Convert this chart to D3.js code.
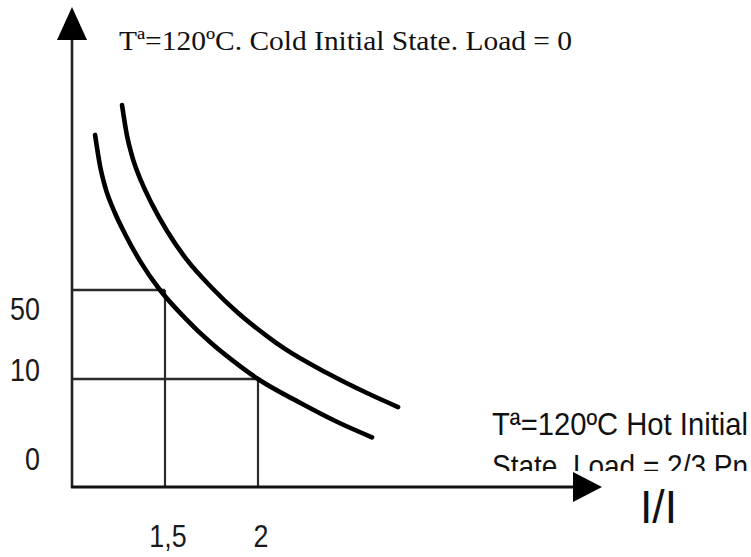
<!DOCTYPE html>
<html>
<head>
<meta charset="utf-8">
<script src="https://cdn.jsdelivr.net/npm/d3@7"></script>
<style>
    body { margin: 0; background: #fff; }
    svg { display: block; }
</style>
</head>
<body>
<svg class="chart" width="751" height="557"></svg>
<script>
/*global d3*/

// tick values on each axis
var xTicks = [1.5, 2];
var xTickLabels = ["1,5", "2"];
var yTicks = [0, 10, 50];
var yTickLabels = ["0", "10", "50"];

// the two reference lines drawn from the axes to the lower curve
var guideX = [1.5, 2];
var guideY = [50, 10];

// cold initial state, load = 0 (upper curve)
var coldX = [1.269, 1.296, 1.323, 1.376, 1.430, 1.511, 1.618, 1.753, 1.887, 2.048, 2.145, 2.371, 2.586, 2.753];
var coldY = [133.1, 119.2, 110.2, 98.1, 88.6, 76.5, 63.5, 50.9, 40.1, 29.3, 23.5, 12.7, 8.7, 7.4];

// hot initial state, load = 2/3 Pn (lower curve)
var hotX = [1.124, 1.151, 1.177, 1.231, 1.285, 1.366, 1.473, 1.608, 1.742, 1.903, 2.0, 2.226, 2.441, 2.613];
var hotY = [119.7, 105.7, 96.7, 84.6, 75.2, 63.0, 50, 37.4, 26.6, 15.8, 10, 7.8, 5.9, 4.6];

var titleTop = "T\u00aa=120\u00baC. Cold Initial State. Load = 0";
var titleBottom = ["T\u00aa=120\u00baC Hot Initial", "State. Load = 2/3 Pn"];
var xTitle = "I/I";

var svg = d3.select(".chart");

// x: I/In, origin of the sketch is 1
var x = d3.scaleLinear().domain([1, 2]).range([72, 258]);
// y: the sketch is not to scale, so piecewise through the labelled values
var y = d3.scaleLinear().domain([0, 10, 50]).range([487, 379, 290]);
// the y labels sit a little off their lines in the sketch
var yLabel = d3.scaleLinear().domain([0, 10, 50]).range([470, 381, 320]);

var axisTop = 40, axisRight = 574;

// guide lines
guideX.forEach(function (gx, i) {
    var gy = guideY[i];
    svg.append("line")
        .attr("x1", x(1)).attr("x2", x(gx))
        .attr("y1", y(gy)).attr("y2", y(gy))
        .attr("stroke", "#2b2b2b").attr("stroke-width", 2.6);
    svg.append("line")
        .attr("x1", x(gx)).attr("x2", x(gx))
        .attr("y1", y(gy)).attr("y2", y(0))
        .attr("stroke", "#2b2b2b").attr("stroke-width", 2.2);
});

// axes with arrow heads
svg.append("line")
    .attr("x1", x(1)).attr("x2", x(1))
    .attr("y1", y(0) + 1).attr("y2", axisTop)
    .attr("stroke", "#222").attr("stroke-width", 2.6);
svg.append("line")
    .attr("x1", x(1) - 1).attr("x2", axisRight)
    .attr("y1", y(0)).attr("y2", y(0))
    .attr("stroke", "#111").attr("stroke-width", 3);

svg.append("path")
    .attr("d", "M" + x(1) + ",7L" + (x(1) - 15) + "," + axisTop + "L" + (x(1) + 15) + "," + axisTop + "Z")
    .attr("fill", "#000");
svg.append("path")
    .attr("d", "M602," + y(0) + "L" + (axisRight - 1) + "," + (y(0) - 15) + "L" + (axisRight - 1) + "," + (y(0) + 15) + "Z")
    .attr("fill", "#000");

// curves
var line = d3.line()
    .x(function (d) { return x(d[0]); })
    .y(function (d) { return y(d[1]); })
    .curve(d3.curveMonotoneX);

[[coldX, coldY], [hotX, hotY]].forEach(function (s) {
    var pts = s[0].map(function (v, i) { return [v, s[1][i]]; });
    svg.append("path")
        .datum(pts)
        .attr("d", line)
        .attr("fill", "none")
        .attr("stroke", "#000")
        .attr("stroke-width", 4.6)
        .attr("stroke-linecap", "round");
});

// tick labels (condensed sans, like the source drawing)
var tickFont = "'Liberation Sans', Arial, sans-serif";

yTicks.forEach(function (v, i) {
    svg.append("text")
        .attr("transform", "translate(40," + yLabel(v) + ") scale(0.84,1)")
        .attr("text-anchor", "end")
        .attr("font-family", tickFont)
        .attr("font-size", 32)
        .attr("fill", "#1a1a1a")
        .text(yTickLabels[i]);
});

xTicks.forEach(function (v, i) {
    svg.append("text")
        .attr("transform", "translate(" + (x(v) + 3) + ",547) scale(0.84,1)")
        .attr("text-anchor", "middle")
        .attr("font-family", tickFont)
        .attr("font-size", 32)
        .attr("fill", "#1a1a1a")
        .text(xTickLabels[i]);
});

// titles
svg.append("text")
    .attr("x", 119).attr("y", 50)
    .attr("font-family", "'Liberation Serif', 'Times New Roman', serif")
    .attr("font-size", 28)
    .attr("textLength", 453)
    .attr("lengthAdjust", "spacingAndGlyphs")
    .attr("fill", "#111")
    .text(titleTop);

svg.append("clipPath").attr("id", "cut")
    .append("rect").attr("x", 0).attr("y", 0).attr("width", 751).attr("height", 471);

var bottom = svg.append("g").attr("clip-path", "url(#cut)");
titleBottom.forEach(function (t, i) {
    bottom.append("text")
        .attr("x", 492).attr("y", 435 + i * 42)
        .attr("font-family", tickFont)
        .attr("font-size", 32)
        .attr("textLength", 256)
        .attr("lengthAdjust", "spacingAndGlyphs")
        .attr("fill", "#111")
        .text(t);
});

svg.append("text")
    .attr("x", 640).attr("y", 523)
    .attr("font-family", tickFont)
    .attr("font-size", 47)
    .attr("textLength", 37)
    .attr("lengthAdjust", "spacingAndGlyphs")
    .attr("fill", "#111")
    .text(xTitle);
</script>
</body>
</html>
